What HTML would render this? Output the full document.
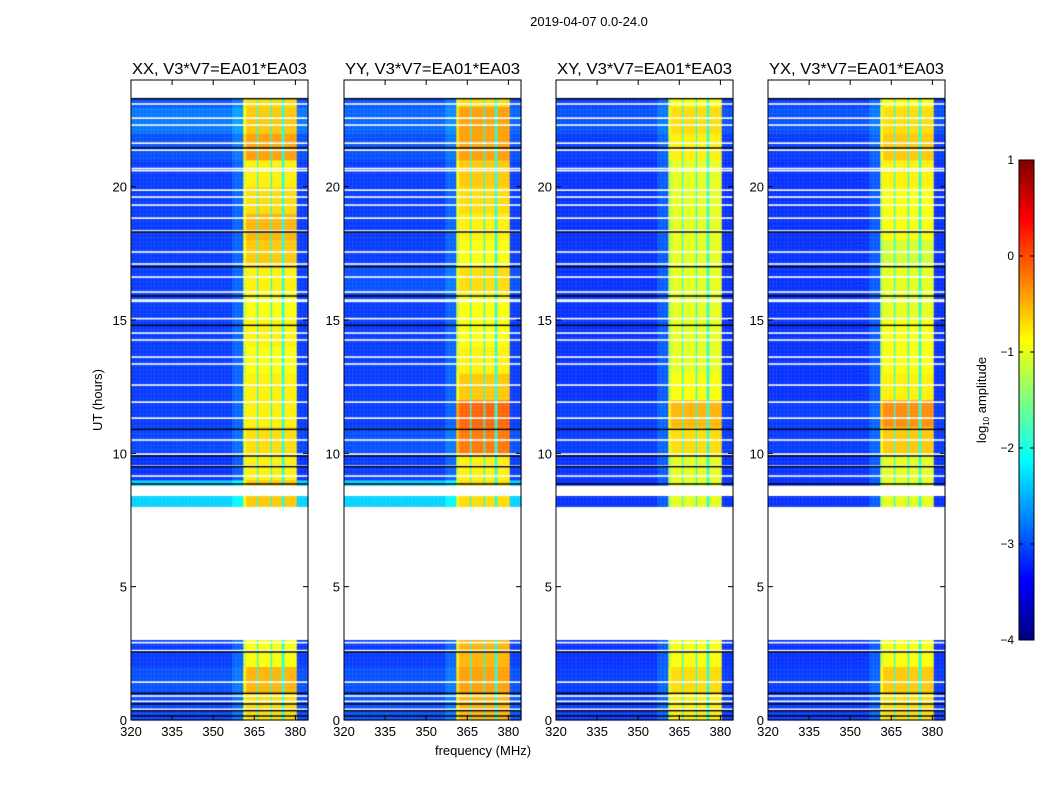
<!DOCTYPE html>
<html><head><meta charset="utf-8">
<style>
html,body{margin:0;padding:0;background:#fff;}
#wrap{position:relative;width:1050px;height:800px;overflow:hidden;font-family:"Liberation Sans",sans-serif;}
canvas,svg{position:absolute;left:0;top:0;}
</style></head>
<body>
<div id="wrap">
<canvas id="cv" width="1050" height="800"></canvas>
<svg id="sv" width="1050" height="800"></svg>
</div>
<script>
// ---- data ----
const panelTitles = ["XX, V3*V7=EA01*EA03","YY, V3*V7=EA01*EA03","XY, V3*V7=EA01*EA03","YX, V3*V7=EA01*EA03"];
const xTicks = [320,335,350,365,380];
const yTicks = [0,5,10,15,20];
const cbTicks = [1,0,-1,-2,-3,-4];
const timeSegs = [[0,3.0],[8.0,8.4],[8.8,23.3]];
// hourly band level (log10 amp), index = hour 0..23 (null = no data)
const bandXX = [-0.7,-0.5,-0.9,null,null,null,null,null,-0.6,-0.8,-0.7,-0.8,-0.8,-0.9,-0.8,-0.9,-0.8,-0.6,-0.5,-0.7,-0.8,-0.4,-0.6,-0.7];
const bandYY = [-0.5,-0.4,-0.5,null,null,null,null,null,-0.7,-0.8,-0.2,-0.1,-0.6,-0.8,-0.9,-0.9,-0.7,-0.9,-0.8,-0.7,-0.6,-0.4,-0.4,-0.7];
const bandXY = [-0.8,-0.7,-0.9,null,null,null,null,null,-1.0,-1.0,-0.7,-0.5,-0.9,-1.0,-1.0,-1.0,-1.0,-1.0,-1.0,-1.0,-1.0,-0.8,-0.7,-0.9];
const bandYX = [-0.7,-0.6,-0.9,null,null,null,null,null,-1.0,-1.0,-0.6,-0.3,-0.8,-0.9,-0.9,-1.0,-1.0,-1.1,-0.9,-0.9,-0.8,-0.6,-0.7,-0.9];
// hourly background level
const bgXX = [-3.05,-3.0,-3.1,null,null,null,null,null,-2.35,-3.15,-3.05,-3.1,-3.1,-3.1,-3.1,-3.1,-3.1,-3.1,-3.1,-3.1,-3.1,-3.0,-2.8,-3.0];
const bgYY = [-3.0,-3.0,-3.1,null,null,null,null,null,-2.35,-3.1,-3.0,-3.1,-3.1,-3.1,-3.1,-3.1,-3.0,-3.1,-3.1,-3.1,-3.1,-3.0,-2.9,-3.0];
const bgXY = [-3.1,-3.1,-3.15,null,null,null,null,null,-3.15,-3.15,-3.1,-3.1,-3.15,-3.15,-3.15,-3.15,-3.15,-3.15,-3.15,-3.15,-3.15,-3.1,-3.0,-3.1];
const bgYX = [-3.1,-3.1,-3.15,null,null,null,null,null,-3.15,-3.15,-3.1,-3.1,-3.15,-3.15,-3.15,-3.15,-3.15,-3.15,-3.15,-3.15,-3.15,-3.1,-3.0,-3.1];
const bandLevels = [bandXX,bandYY,bandXY,bandYX];
const bgLevels = [bgXX,bgYY,bgXY,bgYX];
// band definition (MHz)
const bandStart = 361.0, bandEnd = 380.6;
const stripeFreqs = [366.4,371.1,375.5];
const stripeLevel = -2.0;
// flagged rows (hours)
const whiteLines = [23.10,22.57,22.31,21.63,21.37,20.6,20.68,19.87,19.61,19.31,18.82,18.34,17.55,17.10,16.61,16.05,15.7,15.75,15.05,14.51,14.25,13.61,13.35,12.56,11.92,11.32,10.50,9.97,9.52,9.15,2.9,2.6,1.42,0.9,0.7,0.4];
const blackLines = [23.3,21.45,18.3,17.0,15.9,14.8,10.9,9.9,9.5,8.85,2.55,1.0,0.6,0.35,0.15];

// ---- geometry ----
const panelX = [131,344,556,768], PW = 177, PT = 80, PB = 720;
const fMin = 320, fMax = 384.6, tMin = 0, tMax = 24;
function xs(p,f){return panelX[p] + (f-fMin)/(fMax-fMin)*PW;}
function ys(t){return PB - (t-tMin)/(tMax-tMin)*(PB-PT);}
const cbX=1019, cbW=15, cbT=160, cbB=640, vMin=-4, vMax=1;
function cbY(v){return cbB - (v-vMin)/(vMax-vMin)*(cbB-cbT);}

function jet(v){
  let x=(v-vMin)/(vMax-vMin); x=Math.max(0,Math.min(1,x));
  const c=t=>Math.max(0,Math.min(1,t));
  const r=c(1.5-Math.abs(4*x-3)), g=c(1.5-Math.abs(4*x-2)), b=c(1.5-Math.abs(4*x-1));
  return `rgb(${Math.round(r*255)},${Math.round(g*255)},${Math.round(b*255)})`;
}
function inSeg(t){return timeSegs.some(s=>t>=s[0]&&t<s[1]);}
function cellValue(p,f,t){
  const h=Math.min(23,Math.floor(t));
  const bl=bandLevels[p][h], bg=bgLevels[p][h];
  if(bl===null) return null;
  if(f>=bandStart && f<bandEnd){
    for(const s of stripeFreqs) if(Math.abs(f-s)<0.3) return stripeLevel;
    if(f<bandStart+1.0) return bl-0.3;
    return bl;
  }
  if(f>=357 && f<bandStart) return bg+0.2;
  return bg;
}

// ---- draw heatmaps ----
const ctx=document.getElementById('cv').getContext('2d');
const dF=0.5, dT=0.05;
for(let p=0;p<4;p++){
  for(let t=0;t<tMax;t+=dT){
    const tc=t+dT/2;
    if(!inSeg(tc)) continue;
    for(let f=fMin;f<fMax;f+=dF){
      const v=cellValue(p,f+dF/2,tc);
      if(v===null) continue;
      ctx.fillStyle=jet(v);
      const x0=xs(p,f), x1=xs(p,Math.min(fMax,f+dF));
      const y0=ys(t+dT), y1=ys(t);
      ctx.fillRect(x0,y0,x1-x0+0.3,y1-y0+0.3);
    }
  }
  for(const w of whiteLines){ctx.fillStyle='#fff';ctx.fillRect(panelX[p],ys(w)-0.8,PW,1.6);}
  for(const b of blackLines){ctx.fillStyle='#000';ctx.fillRect(panelX[p],ys(b)-0.7,PW,1.4);}
}
// colorbar
for(let y=cbT;y<cbB;y++){
  const v=vMin+(cbB-y-0.5)/(cbB-cbT)*(vMax-vMin);
  ctx.fillStyle=jet(v);ctx.fillRect(cbX,y,cbW,1);
}

// ---- svg axes ----
const NS='http://www.w3.org/2000/svg', sv=document.getElementById('sv');
function el(tag,attrs,parent){const e=document.createElementNS(NS,tag);for(const k in attrs)e.setAttribute(k,attrs[k]);(parent||sv).appendChild(e);return e;}
function txt(s,attrs,parent){const e=el('text',attrs,parent);e.textContent=s;return e;}

const sup=txt("2019-04-07 0.0-24.0",{x:589,y:26,'font-size':13,'text-anchor':'middle',fill:'#000','font-family':'Liberation Sans, sans-serif'});



for(let p=0;p<4;p++){
  const g=el('g',{});
  
  
  const fr=el('rect',{x:panelX[p],y:PT,width:PW,height:PB-PT,fill:'none',stroke:'#000','stroke-width':1},g);
  
  
  const tt=txt(panelTitles[p],{x:panelX[p]+PW/2,y:74,'font-size':16,'text-anchor':'middle','font-family':'Liberation Sans, sans-serif',textLength:175,lengthAdjust:'spacingAndGlyphs'},g);
  
  
  for(const f of xTicks){
    const x=xs(p,f);
    el('line',{x1:x,x2:x,y1:PB,y2:PB-5,stroke:'#000'},g);
    el('line',{x1:x,x2:x,y1:PT,y2:PT+5,stroke:'#000'},g);
    const l=txt(String(f),{x:x,y:PB+16,'font-size':13,'text-anchor':'middle','font-family':'Liberation Sans, sans-serif'},g);
    
    
  }
  for(const t of yTicks){
    const y=ys(t);
    el('line',{x1:panelX[p],x2:panelX[p]+5,y1:y,y2:y,stroke:'#000'},g);
    el('line',{x1:panelX[p]+PW,x2:panelX[p]+PW-5,y1:y,y2:y,stroke:'#000'},g);
    const l=txt(String(t),{x:panelX[p]-4,y:y+5,'font-size':13,'text-anchor':'end','font-family':'Liberation Sans, sans-serif'},g);
    
    
  }
}
const yl=txt("UT (hours)",{x:0,y:0,'font-size':13,'text-anchor':'middle',transform:'translate(102,400) rotate(-90)','font-family':'Liberation Sans, sans-serif'});


const xl=txt("frequency (MHz)",{x:483,y:755,'font-size':13,'text-anchor':'middle','font-family':'Liberation Sans, sans-serif'});



const cb=el('rect',{x:cbX,y:cbT,width:cbW,height:cbB-cbT,fill:'none',stroke:'#000'});


for(const v of cbTicks){
  const y=cbY(v);
  el('line',{x1:cbX,x2:cbX+4,y1:y,y2:y,stroke:'#000'});
  el('line',{x1:cbX+cbW,x2:cbX+cbW-4,y1:y,y2:y,stroke:'#000'});
  const l=txt(v<0?'\u2212'+Math.abs(v):String(v),{x:1014,y:y+4,'font-size':12,'text-anchor':'end','font-family':'Liberation Sans, sans-serif'});
  
  
}
const cl=el('text',{x:0,y:0,'font-size':13,'text-anchor':'middle',transform:'translate(986,400) rotate(-90)','font-family':'Liberation Sans, sans-serif'});


const t1=el('tspan',{},cl);t1.textContent='log';
const t2=el('tspan',{'font-size':8,dy:3},cl);t2.textContent='10';
const t3=el('tspan',{dy:-3},cl);t3.textContent=' amplitude';
</script>
</body></html>
